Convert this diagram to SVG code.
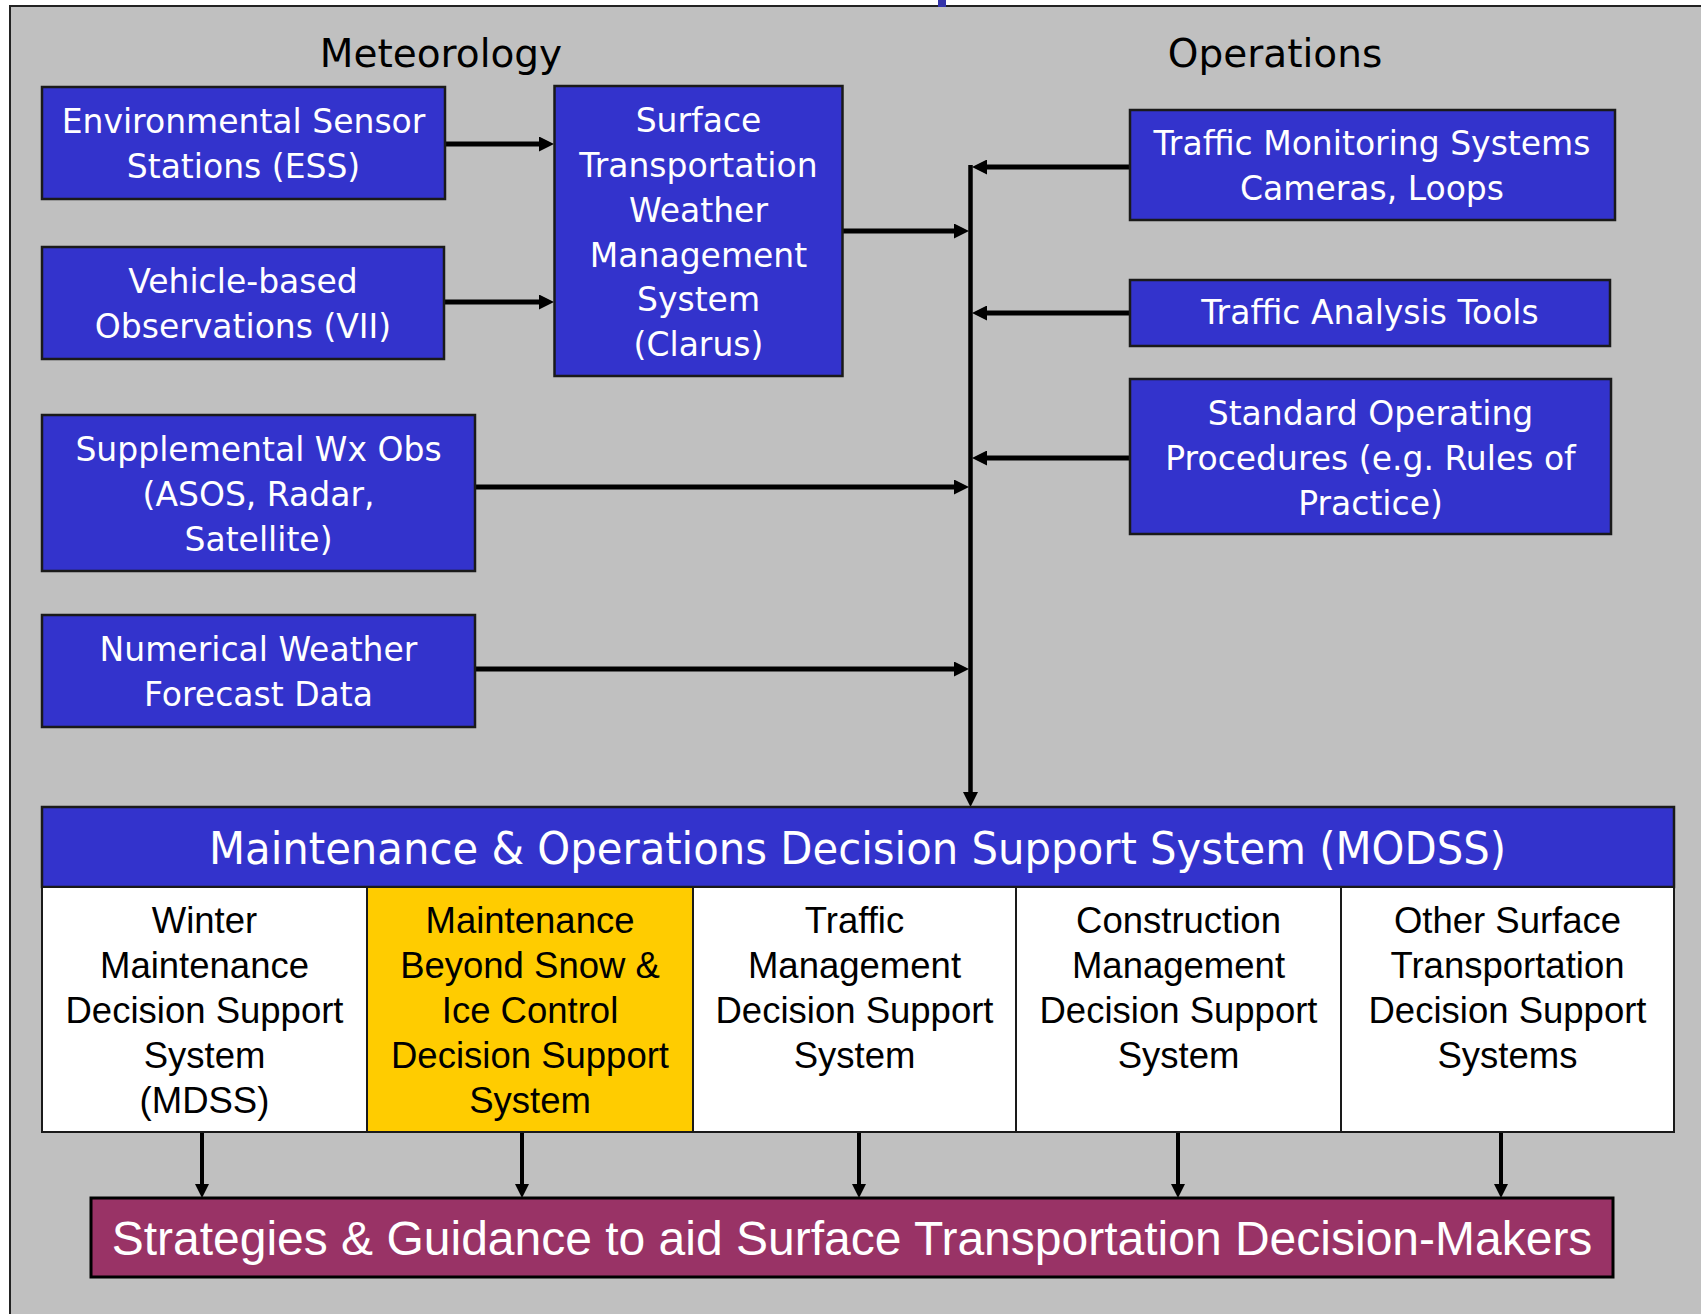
<svg xmlns="http://www.w3.org/2000/svg" width="1701" height="1314" viewBox="0 0 1701 1314">
<defs>
<style>
.blue{fill:#3333CC;stroke:#1a1a1a;stroke-width:2.5}
.cell{stroke:#1a1a1a;stroke-width:2}
.wt{font-family:"DejaVu Sans",Verdana,sans-serif;font-size:33px;fill:#ffffff;text-anchor:middle}
.ttl{font-family:"DejaVu Sans",Verdana,sans-serif;font-size:39px;fill:#000000;text-anchor:middle}
.ct{font-family:"Liberation Sans",Arial,sans-serif;font-size:36.5px;fill:#000000;text-anchor:middle}
.conn{stroke:#000000;stroke-width:5;fill:none}
.bus{stroke:#000000;stroke-width:4.5;fill:none}
.down{stroke:#000000;stroke-width:4;fill:none}
</style>
<marker id="ah" markerUnits="userSpaceOnUse" markerWidth="15" markerHeight="15" viewBox="0 0 15 15" refX="7" refY="7.5" orient="auto">
<path d="M0,0 L15,7.5 L0,15 z" fill="#000000"/>
</marker>
<marker id="ahs" markerUnits="userSpaceOnUse" markerWidth="14" markerHeight="14" viewBox="0 0 14 14" refX="6" refY="7" orient="auto">
<path d="M0,0 L14,7 L0,14 z" fill="#000000"/>
</marker>
</defs>
<rect x="0" y="0" width="1701" height="1314" fill="#ffffff"/>
<rect x="10" y="6" width="1800" height="1400" fill="#C0C0C0" stroke="#222222" stroke-width="2"/>
<rect x="938" y="0" width="8" height="7" fill="#3333AA"/>

<g id="title-meteorology"><text class="ttl" x="441" y="67">Meteorology</text></g>
<g id="title-operations"><text class="ttl" x="1275" y="67">Operations</text></g>

<g id="connectors">
<line class="conn" x1="445" y1="144" x2="546" y2="144" marker-end="url(#ah)"/>
<line class="conn" x1="444" y1="302" x2="546" y2="302" marker-end="url(#ah)"/>
<line class="conn" x1="843" y1="231" x2="961" y2="231" marker-end="url(#ah)"/>
<line class="conn" x1="1130" y1="167" x2="980" y2="167" marker-end="url(#ah)"/>
<line class="conn" x1="1130" y1="313" x2="980" y2="313" marker-end="url(#ah)"/>
<line class="conn" x1="1130" y1="458" x2="980" y2="458" marker-end="url(#ah)"/>
<line class="conn" x1="475" y1="487" x2="961" y2="487" marker-end="url(#ah)"/>
<line class="conn" x1="475" y1="669" x2="961" y2="669" marker-end="url(#ah)"/>
<line class="bus" x1="970.5" y1="165" x2="970.5" y2="799" marker-end="url(#ah)"/>
<line class="down" x1="202" y1="1133" x2="202" y2="1190" marker-end="url(#ahs)"/>
<line class="down" x1="522" y1="1133" x2="522" y2="1190" marker-end="url(#ahs)"/>
<line class="down" x1="859" y1="1133" x2="859" y2="1190" marker-end="url(#ahs)"/>
<line class="down" x1="1178" y1="1133" x2="1178" y2="1190" marker-end="url(#ahs)"/>
<line class="down" x1="1501" y1="1133" x2="1501" y2="1190" marker-end="url(#ahs)"/>
</g>

<g id="ess">
<rect class="blue" x="42" y="87" width="403" height="112"/>
<text class="wt" x="243.5" y="133">Environmental Sensor</text>
<text class="wt" x="243.5" y="178">Stations (ESS)</text>
</g>
<g id="vii">
<rect class="blue" x="42" y="247" width="402" height="112"/>
<text class="wt" x="243" y="293">Vehicle-based</text>
<text class="wt" x="243" y="338">Observations (VII)</text>
</g>
<g id="clarus">
<rect class="blue" x="554.5" y="86" width="288" height="290"/>
<text class="wt" x="698.5" y="132">Surface</text>
<text class="wt" x="698.5" y="177">Transportation</text>
<text class="wt" x="698.5" y="222">Weather</text>
<text class="wt" x="698.5" y="267">Management</text>
<text class="wt" x="698.5" y="311">System</text>
<text class="wt" x="698.5" y="356">(Clarus)</text>
</g>
<g id="supplemental">
<rect class="blue" x="42" y="415" width="433" height="156"/>
<text class="wt" x="258.5" y="461">Supplemental Wx Obs</text>
<text class="wt" x="258.5" y="506">(ASOS, Radar,</text>
<text class="wt" x="258.5" y="551">Satellite)</text>
</g>
<g id="nwp">
<rect class="blue" x="42" y="615" width="433" height="112"/>
<text class="wt" x="258.5" y="661">Numerical Weather</text>
<text class="wt" x="258.5" y="706">Forecast Data</text>
</g>
<g id="tms">
<rect class="blue" x="1130" y="110" width="485" height="110"/>
<text class="wt" x="1372" y="155">Traffic Monitoring Systems</text>
<text class="wt" x="1372" y="200">Cameras, Loops</text>
</g>
<g id="tat">
<rect class="blue" x="1130" y="280" width="480" height="66"/>
<text class="wt" x="1370" y="324">Traffic Analysis Tools</text>
</g>
<g id="sop">
<rect class="blue" x="1130" y="379" width="481" height="155"/>
<text class="wt" x="1370.5" y="425">Standard Operating</text>
<text class="wt" x="1370.5" y="470">Procedures (e.g. Rules of</text>
<text class="wt" x="1370.5" y="515">Practice)</text>
</g>

<g id="modss">
<rect class="blue" x="42" y="807" width="1632" height="80"/>
<text x="857.5" y="864" font-family="DejaVu Sans, Verdana, sans-serif" font-size="44" fill="#ffffff" text-anchor="middle" textLength="1297" lengthAdjust="spacingAndGlyphs">Maintenance &amp; Operations Decision Support System (MODSS)</text>
</g>
<g id="cell-mdss">
<rect class="cell" x="42" y="887" width="325" height="245" fill="#ffffff"/>
<text class="ct" x="204.5" y="933">Winter</text>
<text class="ct" x="204.5" y="978">Maintenance</text>
<text class="ct" x="204.5" y="1023">Decision Support</text>
<text class="ct" x="204.5" y="1068">System</text>
<text class="ct" x="204.5" y="1113">(MDSS)</text>
</g>
<g id="cell-maint">
<rect class="cell" x="367" y="887" width="326" height="245" fill="#FFCC00"/>
<text class="ct" x="530" y="933">Maintenance</text>
<text class="ct" x="530" y="978">Beyond Snow &amp;</text>
<text class="ct" x="530" y="1023">Ice Control</text>
<text class="ct" x="530" y="1068">Decision Support</text>
<text class="ct" x="530" y="1113">System</text>
</g>
<g id="cell-traffic">
<rect class="cell" x="693" y="887" width="323" height="245" fill="#ffffff"/>
<text class="ct" x="854.5" y="933">Traffic</text>
<text class="ct" x="854.5" y="978">Management</text>
<text class="ct" x="854.5" y="1023">Decision Support</text>
<text class="ct" x="854.5" y="1068">System</text>
</g>
<g id="cell-construction">
<rect class="cell" x="1016" y="887" width="325" height="245" fill="#ffffff"/>
<text class="ct" x="1178.5" y="933">Construction</text>
<text class="ct" x="1178.5" y="978">Management</text>
<text class="ct" x="1178.5" y="1023">Decision Support</text>
<text class="ct" x="1178.5" y="1068">System</text>
</g>
<g id="cell-other">
<rect class="cell" x="1341" y="887" width="333" height="245" fill="#ffffff"/>
<text class="ct" x="1507.5" y="933">Other Surface</text>
<text class="ct" x="1507.5" y="978">Transportation</text>
<text class="ct" x="1507.5" y="1023">Decision Support</text>
<text class="ct" x="1507.5" y="1068">Systems</text>
</g>

<g id="strategies">
<rect x="91" y="1198" width="1522" height="79" fill="#993366" stroke="#000000" stroke-width="3"/>
<text x="852" y="1255" font-family="Liberation Sans, Arial, sans-serif" font-size="48" fill="#ffffff" text-anchor="middle">Strategies &amp; Guidance to aid Surface Transportation Decision-Makers</text>
</g>
</svg>
